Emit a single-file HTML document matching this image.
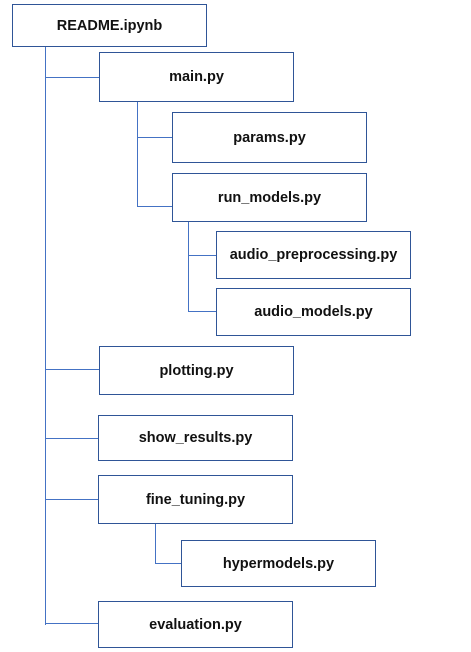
<!DOCTYPE html>
<html><head><style>
body{margin:0;width:471px;height:652px;background:#fff;position:relative;overflow:hidden;font-family:"Liberation Sans",sans-serif}
.b{position:absolute;box-sizing:border-box;border:1.3px solid #2f5597;background:#fff;display:flex;align-items:center;justify-content:center;font-weight:bold;font-size:14.5px;color:#111}
.l{position:absolute;background:#4472c4}
</style></head><body>
<div class="l" style="left:45px;top:46px;width:1px;height:579px"></div>
<div class="l" style="left:45px;top:77px;width:54px;height:1px"></div>
<div class="l" style="left:45px;top:369px;width:54px;height:1px"></div>
<div class="l" style="left:45px;top:438px;width:54px;height:1px"></div>
<div class="l" style="left:45px;top:499px;width:54px;height:1px"></div>
<div class="l" style="left:45px;top:623px;width:54px;height:1px"></div>
<div class="l" style="left:137px;top:101px;width:1px;height:106px"></div>
<div class="l" style="left:137px;top:137px;width:35px;height:1px"></div>
<div class="l" style="left:137px;top:206px;width:35px;height:1px"></div>
<div class="l" style="left:188px;top:221px;width:1px;height:91px"></div>
<div class="l" style="left:188px;top:255px;width:28px;height:1px"></div>
<div class="l" style="left:188px;top:311px;width:28px;height:1px"></div>
<div class="l" style="left:155px;top:523px;width:1px;height:41px"></div>
<div class="l" style="left:155px;top:563px;width:26px;height:1px"></div>
<div class="b" style="left:12px;top:4px;width:195px;height:43px">README.ipynb</div>
<div class="b" style="left:99px;top:52px;width:195px;height:50px">main.py</div>
<div class="b" style="left:172px;top:112px;width:195px;height:51px">params.py</div>
<div class="b" style="left:172px;top:173px;width:195px;height:49px">run_models.py</div>
<div class="b" style="left:216px;top:231px;width:195px;height:48px">audio_preprocessing.py</div>
<div class="b" style="left:216px;top:288px;width:195px;height:48px">audio_models.py</div>
<div class="b" style="left:99px;top:346px;width:195px;height:49px">plotting.py</div>
<div class="b" style="left:98px;top:415px;width:195px;height:46px">show_results.py</div>
<div class="b" style="left:98px;top:475px;width:195px;height:49px">fine_tuning.py</div>
<div class="b" style="left:181px;top:540px;width:195px;height:47px">hypermodels.py</div>
<div class="b" style="left:98px;top:601px;width:195px;height:47px">evaluation.py</div>
</body></html>
